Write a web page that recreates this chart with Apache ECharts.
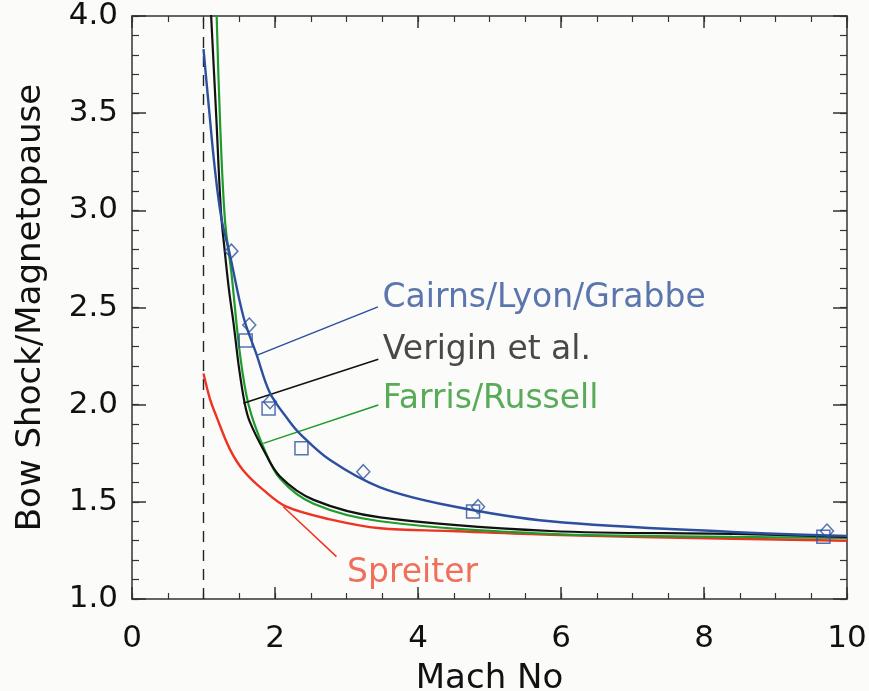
<!DOCTYPE html>
<html>
<head>
<meta charset="utf-8">
<script src="https://cdn.jsdelivr.net/npm/echarts@6/dist/echarts.min.js"></script>
<style>html,body{margin:0;padding:0;background:#fbfcf9;}#c{width:869px;height:691px;}</style>
</head>
<body>
<div id="c"></div>
<script>
// ---- data ----
const xTicks = [0, 2, 4, 6, 8, 10];
const yTicks = [1.0, 1.5, 2.0, 2.5, 3.0, 3.5, 4.0];

const cairnsX = [1.0, 1.07, 1.16, 1.25, 1.37, 1.56, 1.74, 1.93, 2.19, 2.35, 2.77, 3.47, 4.45, 5.85, 8.4, 10];
const cairnsY = [3.83, 3.55, 3.21, 2.96, 2.77, 2.45, 2.26, 2.06, 1.92, 1.85, 1.715, 1.575, 1.48, 1.40, 1.345, 1.325];

const veriginX = [1.10, 1.18, 1.245, 1.30, 1.36, 1.42, 1.50, 1.58, 1.65, 1.84, 2.07, 2.54, 3.47, 5.85, 8.4, 10];
const veriginY = [4.05, 3.47, 2.99, 2.78, 2.58, 2.42, 2.18, 2.00, 1.91, 1.767, 1.63, 1.51, 1.42, 1.35, 1.335, 1.32];

const farrisX = [1.18, 1.23, 1.30, 1.39, 1.51, 1.63, 1.84, 2.07, 2.54, 3.47, 5.85, 8.4, 10];
const farrisY = [4.05, 3.47, 2.95, 2.68, 2.26, 2.00, 1.78, 1.62, 1.49, 1.40, 1.335, 1.32, 1.315];

const spreiterX = [1.0, 1.09, 1.18, 1.37, 1.56, 1.84, 2.16, 2.77, 3.47, 4.45, 5.85, 8.4, 10];
const spreiterY = [2.16, 2.03, 1.94, 1.77, 1.66, 1.56, 1.475, 1.41, 1.364, 1.35, 1.33, 1.31, 1.30];

const diamondX = [1.39, 1.64, 1.93, 3.235, 4.84, 9.72];
const diamondY = [2.79, 2.41, 2.015, 1.655, 1.475, 1.35];
const squareX = [1.59, 1.91, 2.37, 4.77, 9.67];
const squareY = [2.33, 1.98, 1.776, 1.45, 1.32];

const machOne = [[1, 1], [1, 4]];

const labelNames = ['Cairns/Lyon/Grabbe', 'Verigin et al.', 'Farris/Russell', 'Spreiter'];
const leaderStart = [[1.76, 2.256], [1.557, 2.007], [1.837, 1.801], [2.116, 1.475]];
const leaderEnd = [[3.44, 2.503], [3.445, 2.234], [3.445, 1.998], [2.86, 1.218]];

// ---- styling ----
const FONT = 'DejaVu Sans';
const cBlue = '#2c4f9e', cBlack = '#111111', cGreen = '#1f9a2c', cRed = '#ee3322';
const tBlue = '#33529c', tBlack = '#1a1a1a', tGreen = '#2f962f', tRed = '#ef4a33';
const lineColors = [cBlue, cBlack, cGreen, cRed];
const textColors = [tBlue, tBlack, tGreen, tRed];
const labelOffsets = [[0, -8], [0, -9], [0, -6], [4, 17]];
const labelDist = [4, 4, 4, 6];

const zip = (xs, ys) => xs.map((x, i) => [x, ys[i]]);
const axisColor = '#333333';

function xAx(pos, showLabel, minor) {
  return {
    type: 'value', position: pos, min: 0, max: 10, interval: minor ? 0.5 : 2,
    axisLine: { show: !minor, onZero: false, lineStyle: { color: axisColor, width: 1.5 } },
    axisTick: { show: true, inside: true, length: minor ? 6 : 12, lineStyle: { color: axisColor, width: minor ? 1.2 : 1.5 } },
    splitLine: { show: false },
    axisLabel: { show: showLabel, fontFamily: FONT, fontSize: 31, color: '#111', margin: 24,
      formatter: v => String(v) },
    name: showLabel ? 'Mach No' : '', nameLocation: 'middle', nameGap: 63,
    nameTextStyle: { fontFamily: FONT, fontSize: 34, color: '#111' }
  };
}
function yAx(pos, showLabel, minor) {
  return {
    type: 'value', position: pos, min: 1, max: 4, interval: minor ? 0.1 : 0.5,
    axisLine: { show: !minor, onZero: false, lineStyle: { color: axisColor, width: 1.5 } },
    axisTick: { show: true, inside: true, length: minor ? 7 : 14, lineStyle: { color: axisColor, width: minor ? 1.2 : 1.5 } },
    splitLine: { show: false },
    axisLabel: { show: showLabel, fontFamily: FONT, fontSize: 31, color: '#111', margin: 14,
      formatter: v => v.toFixed(1) },
    name: showLabel ? 'Bow Shock/Magnetopause' : '', nameLocation: 'middle', nameGap: 84,
    nameTextStyle: { fontFamily: FONT, fontSize: 34, color: '#111' }
  };
}

const curve = (name, xs, ys, color, w, z) => ({
  name, type: 'line', data: zip(xs, ys), smooth: 0.35,
  showSymbol: false, symbol: 'none', clip: true, z,
  lineStyle: { color, width: w }, animation: false
});

const series = [
  { type: 'line', data: machOne, symbol: 'none', z: 1, animation: false,
    lineStyle: { color: '#222', width: 1.4, type: [11, 8] } },
  curve('Spreiter', spreiterX, spreiterY, cRed, 2.4, 2),
  curve('Farris/Russell', farrisX, farrisY, cGreen, 2.2, 3),
  curve('Verigin et al.', veriginX, veriginY, cBlack, 2.2, 4),
  curve('Cairns/Lyon/Grabbe', cairnsX, cairnsY, cBlue, 2.4, 5),
  { type: 'scatter', data: zip(diamondX, diamondY), symbol: 'diamond', symbolSize: [13, 14], z: 6,
    itemStyle: { color: 'rgba(0,0,0,0)', borderColor: cBlue, borderWidth: 1.5 }, animation: false },
  { type: 'scatter', data: zip(squareX, squareY), symbol: 'rect', symbolSize: 13, z: 6,
    itemStyle: { color: 'rgba(0,0,0,0)', borderColor: cBlue, borderWidth: 1.5 }, animation: false }
];

labelNames.forEach((nm, i) => {
  series.push({
    type: 'line', data: [leaderStart[i], leaderEnd[i]], symbol: 'none', z: 3, animation: false,
    lineStyle: { color: lineColors[i], width: 1.5 }
  });
  series.push({
    type: 'scatter', symbolSize: 1, z: 7, animation: false,
    itemStyle: { color: 'rgba(0,0,0,0)' },
    data: [{ value: leaderEnd[i] }],
    label: { show: true, position: 'right', distance: labelDist[i], offset: labelOffsets[i],
      formatter: nm, fontFamily: FONT, fontSize: 33, color: textColors[i] }
  });
});

const chart = echarts.init(document.getElementById('c'), null, { renderer: 'canvas' });
chart.setOption({
  backgroundColor: '#fbfcf9',
  animation: false,
  grid: { left: 132, right: 22, top: 16, bottom: 92, containLabel: false, outerBoundsMode: 'none' },
  xAxis: [xAx('bottom', true, false), xAx('top', false, false), xAx('bottom', false, true), xAx('top', false, true)],
  yAxis: [yAx('left', true, false), yAx('right', false, false), yAx('left', false, true), yAx('right', false, true)],
  series
});
</script>
</body>
</html>
